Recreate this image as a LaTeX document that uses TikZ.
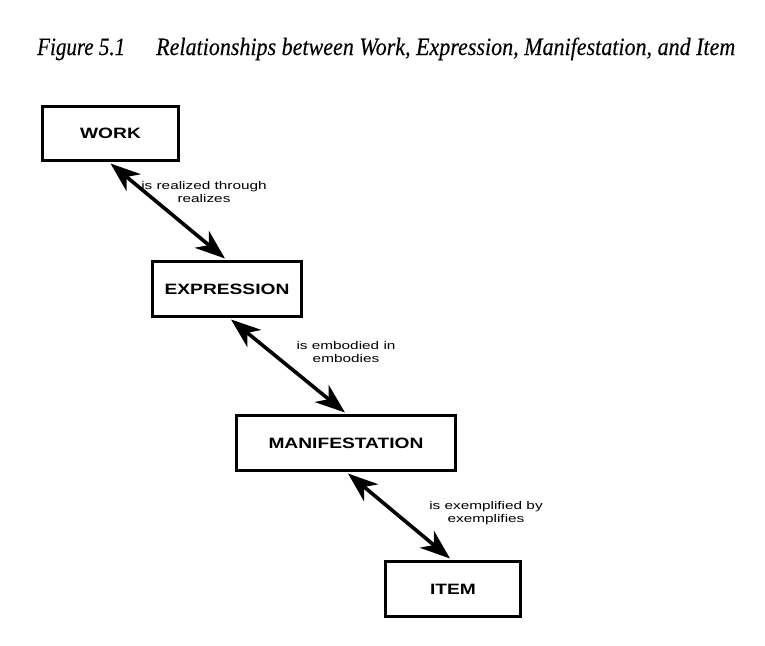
\documentclass[tikz,border=0pt]{standalone}
\usepackage{fontspec}
\usepackage{graphicx}
\setmainfont{Liberation Serif}
\newfontfamily\arialfont{Liberation Sans}
\newfontfamily\titlefont[ItalicFeatures={FakeBold=0.25}]{Liberation Serif}
\usetikzlibrary{arrows.meta}
\newcommand{\hsx}[1]{\scalebox{1.37}[1]{#1}}
\newcommand{\hsb}[1]{\scalebox{1.28}[1]{#1}}
\tikzset{
  entity/.style={draw=black, line width=3pt, inner sep=0pt, font=\arialfont\bfseries\fontsize{15}{17}\selectfont},
  rel/.style={line width=3.6pt, {Stealth[length=30pt,width=22pt,inset=9pt]}-{Stealth[length=30pt,width=22pt,inset=9pt]}},
  lab/.style={inner sep=0pt, align=center, font=\arialfont\fontsize{11.2}{13.5}\selectfont},
}
\begin{document}
\begin{tikzpicture}[x=1pt,y=-1pt]
\useasboundingbox (0,0) rectangle (765,645);
\fill[white] (0,0) rectangle (765,645);
% title
\node[anchor=base west, inner sep=0pt] (fig) at (37,55) {\resizebox{88pt}{16.5pt}{\titlefont\itshape Figure 5.1}};
\node[anchor=base west, inner sep=0pt] (title) at (156,55) {\resizebox{579pt}{17.5pt}{\titlefont\itshape Relationships between Work, Expression, Manifestation, and Item}};
% boxes
\node[entity, minimum width=136pt, minimum height=54pt] (work) at (110.5,133.5) {\hsb{WORK}};
\node[entity, minimum width=149pt, minimum height=55pt] (expr) at (227,289) {\hsb{EXPRESSION}};
\node[entity, minimum width=219pt, minimum height=55pt] (manif) at (346,443) {\hsb{MANIFESTATION}};
\node[entity, minimum width=135pt, minimum height=55pt] (item) at (453,589) {\hsb{ITEM}};
% connectors
\draw[rel] ([yshift=-1.5pt]work.south) -- ([xshift=-2pt,yshift=1.5pt]expr.north);
\draw[rel] ([xshift=4pt,yshift=-1.5pt]expr.south) -- ([xshift=-1pt,yshift=1.5pt]manif.north);
\draw[rel] ([xshift=2pt,yshift=-1.5pt]manif.south) -- ([xshift=-3pt,yshift=1.5pt]item.north);
% labels
\node[lab] (l1) at (204,192) {\hsx{is realized through}\\\hsx{realizes}};
\node[lab] (l2) at (346,352) {\hsx{is embodied in}\\\hsx{embodies}};
\node[lab] (l3) at (486,513) {\hsx{is exemplified by}\\\hsx{exemplifies}};
\end{tikzpicture}
\end{document}
